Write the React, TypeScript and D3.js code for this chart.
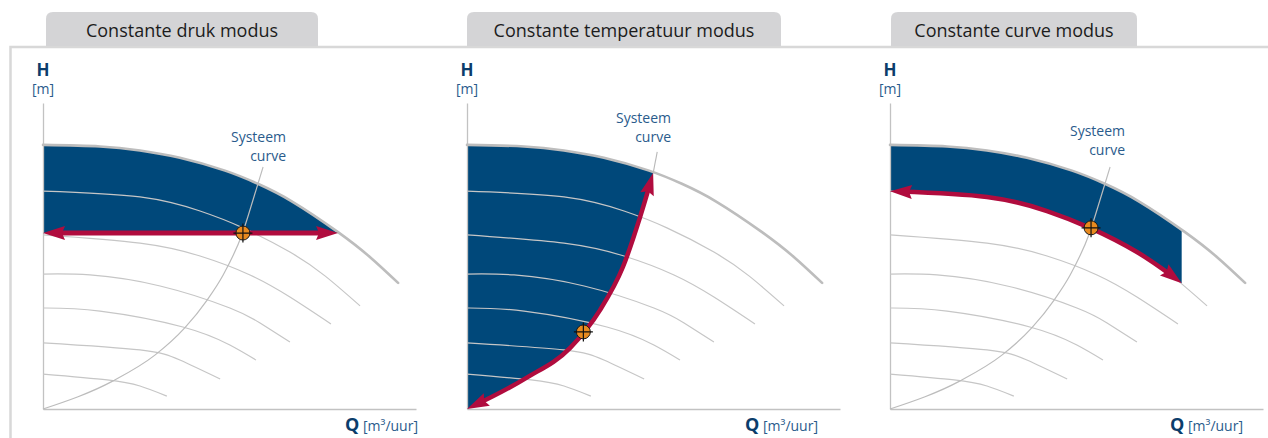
import { useEffect, useRef } from "react";
import * as d3 from "d3";

type Pt = [number, number]; // [Q, H] in schematic units (0-100 on both axes)

const panelTitles = ["Constante druk modus", "Constante temperatuur modus", "Constante curve modus"];
const axisLabelH = "H";
const axisUnitH = "[m]";
const axisLabelQ = "Q";
const axisUnitQ = " [m³/uur]";
const systemLabel = ["Systeem", "curve"];

// pump curves at decreasing speed
const maxCurve: Pt[] = [[0, 86.3], [15.3, 85.8], [26, 84.5], [36.7, 82.1], [48.8, 77.9], [57.6, 73.6], [66.8, 67.8], [79.1, 57.8], [87.7, 49.6], [95.2, 41.2]];
const speedCurve2: Pt[] = [[0, 71.2], [26, 69.3], [42.1, 64.7], [53.6, 59.2], [66.2, 51.3], [75.6, 43.5], [85, 33.7]];
const speedCurve3: Pt[] = [[0, 56.9], [26, 54.2], [42.1, 50], [55.5, 43.8], [66.2, 36.6], [77.2, 27.8]];
const speedCurve4: Pt[] = [[0, 44.1], [12.6, 43.8], [31.4, 40.2], [50.1, 33], [58.2, 28.1], [66.2, 21.9]];
const speedCurve5: Pt[] = [[0, 33], [15.3, 32], [37.5, 26.8], [50.1, 20.9], [57.1, 16]];
const speedCurve6: Pt[] = [[0, 21.6], [26, 19.3], [36.7, 16], [47.5, 9.8]];
const speedCurve7: Pt[] = [[0, 11.4], [17.2, 9.5], [26, 7.5], [33.2, 4.2]];
const speedCurves = [speedCurve2, speedCurve3, speedCurve4, speedCurve5, speedCurve6, speedCurve7];

const systemCurve: Pt[] = [[0, 0], [18.8, 9.2], [30, 17.6], [38, 26.5], [44, 35.6], [48.3, 43.8], [53.4, 57.2], [56.3, 68.3], [59, 79.1]];

// panel 1: constant pressure
const pressureSetpoint = 57.5;
const pressureArrowQ: Pt[] = [[0, 57.5], [79.1, 57.5]];
const pressureDuty: Pt = [53.6, 57.5];

// panel 2: constant temperature control curve
const tempControlCurve: Pt[] = [[0, 0], [15.8, 10.1], [27.6, 19.9], [35.7, 32.4], [41.8, 46.4], [46.4, 62.7], [49.9, 77.1]];
const tempLeader: Pt[] = [[49.9, 77.1], [51, 84]];
const tempDuty: Pt = [31.2, 25.2];

// panel 3: constant curve
const constCurveArrow: Pt[] = [[0, 71.2], [26, 69.3], [42.1, 64.7], [53.6, 59.2], [66.2, 51.3], [75.6, 43.5], [78.2, 41.1]];
const curveDuty: Pt = [53.9, 59.2];

const BLUE = "#00487a";
const RED = "#b00c3e";
const ORANGE = "#e88a1f";
const GREY = "#c6c6c6";
const FONT = "'Open Sans', 'Noto Sans', sans-serif";

const panelX = [43, 467, 890];
const plotW = 373;
const plotH = 306;
const plotBottom = 409;
const tabs = [[46, 318], [467, 781], [891, 1137]];
const qLabelRight = [375, 351, 353];
const sysLabelRight = [243, 204, 235];
const sysLabelY = [[142, 161], [123, 142], [136, 155]];

function tabPath(x0: number, x1: number, y0: number, y1: number, r: number) {
  return `M${x0},${y1}V${y0 + r}Q${x0},${y0} ${x0 + r},${y0}H${x1 - r}Q${x1},${y0} ${x1},${y0 + r}V${y1}Z`;
}

function drawDoubleArrow(g: d3.Selection<SVGGElement, unknown, null, undefined>, d: string, w: number) {
  const p = g.append("path")
    .attr("d", d)
    .attr("fill", "none")
    .attr("stroke", RED)
    .attr("stroke-width", w);
  const node = p.node() as SVGPathElement;
  const len = node.getTotalLength();
  const inset = 10;
  p.attr("stroke-dasharray", `0 ${inset} ${len - 2 * inset} ${inset}`);
  [[len, len - 6], [0, 6]].forEach(([a, b]) => {
    const tip = node.getPointAtLength(a);
    const back = node.getPointAtLength(b);
    const ang = (Math.atan2(tip.y - back.y, tip.x - back.x) * 180) / Math.PI;
    g.append("path")
      .attr("d", "M0,0L-22,-7L-19,0L-22,7Z")
      .attr("transform", `translate(${tip.x},${tip.y}) rotate(${ang})`)
      .attr("fill", RED);
  });
}

export default function App() {
  const svgRef = useRef<SVGSVGElement | null>(null);

  useEffect(() => {
    document.body.style.margin = "0";
    if (!svgRef.current) return;
    const svg = d3.select(svgRef.current);
    svg.selectAll("*").remove();
    const defs = svg.append("defs");

    // outer frame
    svg.append("path")
      .attr("d", "M10.5,438V47H1268")
      .attr("fill", "none")
      .attr("stroke", "#d8d8d8")
      .attr("stroke-width", 2.5);

    panelX.forEach((ox, i) => {
      const x = d3.scaleLinear().domain([0, 100]).range([ox, ox + plotW]);
      const y = d3.scaleLinear().domain([0, 100]).range([plotBottom, plotBottom - plotH]);
      // smooth pump curves
      const pumpLine = d3.line<Pt>().x(d => x(d[0])).y(d => y(d[1])).curve(d3.curveNatural);
      const pumpArea = d3.area<Pt>().x(d => x(d[0])).y0(y(0)).y1(d => y(d[1])).curve(d3.curveNatural);
      // steep system / control curves
      const line = d3.line<Pt>().x(d => x(d[0])).y(d => y(d[1])).curve(d3.curveMonotoneX);
      const g = svg.append("g");

      // tab
      const [t0, t1] = tabs[i];
      g.append("path").attr("d", tabPath(t0, t1, 12, 46, 7)).attr("fill", "#d4d4d6");
      g.append("text")
        .attr("x", (t0 + t1) / 2)
        .attr("y", 37)
        .attr("text-anchor", "middle")
        .attr("font-family", FONT)
        .attr("font-size", 18)
        .attr("fill", "#1c1c1c")
        .text(panelTitles[i]);

      // operating range fill
      const clipId = `range-clip-${i}`;
      const clip = defs.append("clipPath").attr("id", clipId);
      if (i === 0) {
        clip.append("rect")
          .attr("x", x(0))
          .attr("y", y(100))
          .attr("width", plotW)
          .attr("height", y(pressureSetpoint) - y(100));
      } else if (i === 1) {
        const last = tempControlCurve[tempControlCurve.length - 1];
        clip.append("path").attr("d", `${line(tempControlCurve)}L${x(last[0])},${y(100)}L${x(0)},${y(100)}Z`);
      } else {
        const last = constCurveArrow[constCurveArrow.length - 1];
        clip.append("path").attr("d", `${pumpLine(constCurveArrow)}L${x(last[0])},${y(100)}L${x(0)},${y(100)}Z`);
      }
      g.append("path")
        .attr("d", pumpArea(maxCurve))
        .attr("fill", BLUE)
        .attr("clip-path", `url(#${clipId})`);

      // axes
      const xAxis = g.append("g")
        .attr("transform", `translate(0,${y(0)})`)
        .call(d3.axisBottom(x).tickValues([]).tickSizeOuter(0));
      const yAxis = g.append("g")
        .attr("transform", `translate(${x(0)},0)`)
        .call(d3.axisLeft(y).tickValues([]).tickSizeOuter(0));
      [xAxis, yAxis].forEach(a => a.select(".domain").attr("stroke", "#c2c2c2").attr("stroke-width", 1.3));

      // speed curves
      speedCurves.forEach(c => {
        g.append("path")
          .attr("d", pumpLine(c))
          .attr("fill", "none")
          .attr("stroke", GREY)
          .attr("stroke-width", 1.2);
      });
      g.append("path")
        .attr("d", pumpLine(maxCurve))
        .attr("fill", "none")
        .attr("stroke", "#bdbdbd")
        .attr("stroke-width", 2.6)
        .attr("stroke-linecap", "round");

      // system curve
      if (i === 1) {
        g.append("path")
          .attr("d", line(tempLeader))
          .attr("fill", "none")
          .attr("stroke", "#b8b8b8")
          .attr("stroke-width", 1.1);
      } else {
        g.append("path")
          .attr("d", line(systemCurve))
          .attr("fill", "none")
          .attr("stroke", "#bcbcbc")
          .attr("stroke-width", 1.2);
      }

      // control arrow
      if (i === 0) drawDoubleArrow(g, line(pressureArrowQ) as string, 5);
      if (i === 1) drawDoubleArrow(g, line(tempControlCurve) as string, 4.5);
      if (i === 2) drawDoubleArrow(g, pumpLine(constCurveArrow) as string, 4.5);

      // duty point
      const duty = [pressureDuty, tempDuty, curveDuty][i];
      const cx = x(duty[0]);
      const cy = y(duty[1]);
      g.append("circle")
        .attr("cx", cx)
        .attr("cy", cy)
        .attr("r", 7)
        .attr("fill", ORANGE)
        .attr("stroke", "#1a1a1a")
        .attr("stroke-width", 1);
      g.append("path")
        .attr("d", `M${cx - 9.5},${cy}H${cx + 9.5}M${cx},${cy - 9.5}V${cy + 9.5}`)
        .attr("stroke", "#111")
        .attr("stroke-width", 1.2);

      // labels
      g.append("text")
        .attr("x", x(0))
        .attr("y", 76)
        .attr("text-anchor", "middle")
        .attr("font-family", FONT)
        .attr("font-weight", 700)
        .attr("font-size", 17)
        .attr("fill", "#0b3d6b")
        .text(axisLabelH);
      g.append("text")
        .attr("x", x(0))
        .attr("y", 94)
        .attr("text-anchor", "middle")
        .attr("font-family", FONT)
        .attr("font-size", 14)
        .attr("fill", "#2a5b8c")
        .text(axisUnitH);

      const q = g.append("text")
        .attr("x", ox + qLabelRight[i])
        .attr("y", 431)
        .attr("text-anchor", "end")
        .attr("font-family", FONT);
      q.append("tspan").attr("font-weight", 700).attr("font-size", 18).attr("fill", "#0b3d6b").text(axisLabelQ);
      q.append("tspan").attr("font-size", 14).attr("fill", "#2a5b8c").text(axisUnitQ);

      systemLabel.forEach((s, k) => {
        g.append("text")
          .attr("x", ox + sysLabelRight[i])
          .attr("y", sysLabelY[i][k])
          .attr("text-anchor", "end")
          .attr("font-family", FONT)
          .attr("font-size", 14)
          .attr("fill", "#2a5b8c")
          .text(s);
      });
    });
  }, []);

  return (
    <svg
      ref={svgRef}
      width={1268}
      height={438}
      style={{ display: "block", background: "#ffffff" }}
    />
  );
}
